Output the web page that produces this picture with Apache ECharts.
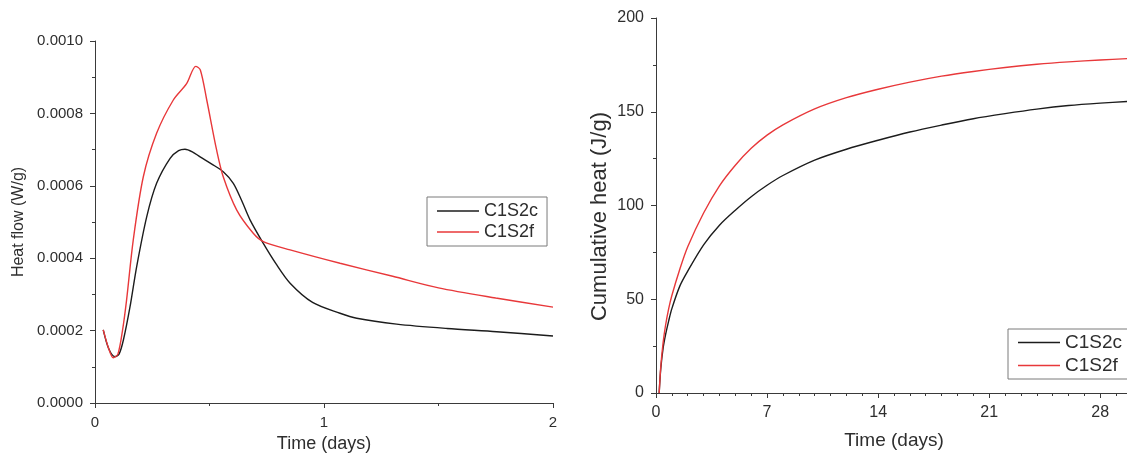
<!DOCTYPE html>
<html>
<head>
<meta charset="utf-8">
<script src="https://cdn.jsdelivr.net/npm/echarts@6/dist/echarts.min.js"></script>
<style>
  html, body { margin: 0; padding: 0; background: #ffffff; }
  #chart { width: 1127px; height: 453px; }
</style>
</head>
<body>
<div id="chart"></div>
<script>
// Heat flow curves over the first two days (time in days, heat flow in W/g)
const heatFlowC1S2c = [
  [0.036, 0.000202], [0.06, 0.000150], [0.087, 0.000128], [0.105, 0.000135],
  [0.124, 0.000174], [0.153, 0.000266], [0.182, 0.000377], [0.226, 0.000515],
  [0.269, 0.000607], [0.328, 0.000676], [0.365, 0.000697], [0.393, 0.000701],
  [0.425, 0.000694], [0.459, 0.000680], [0.510, 0.000660], [0.560, 0.000639],
  [0.604, 0.000607], [0.640, 0.000560], [0.677, 0.000506], [0.735, 0.000441],
  [0.790, 0.000385], [0.852, 0.000331], [0.950, 0.000278], [1.070, 0.000248],
  [1.143, 0.000234], [1.317, 0.000218], [1.536, 0.000206], [1.754, 0.000197],
  [2.000, 0.000185]
];
const heatFlowC1S2f = [
  [0.036, 0.000202], [0.06, 0.000150], [0.080, 0.000125], [0.100, 0.000135],
  [0.120, 0.000200], [0.138, 0.000285], [0.167, 0.000450], [0.211, 0.000625],
  [0.269, 0.000745], [0.342, 0.000837], [0.400, 0.000882], [0.440, 0.000930],
  [0.460, 0.000920], [0.488, 0.000837], [0.531, 0.000699], [0.560, 0.000625],
  [0.619, 0.000533], [0.691, 0.000469], [0.735, 0.000446], [0.852, 0.000423],
  [1.070, 0.000386], [1.300, 0.000350], [1.500, 0.000318], [1.750, 0.000290],
  [2.000, 0.000265]
];

// Cumulative heat over the first month (time in days, heat in J/g)
const cumHeatC1S2c = [
  [0.2, 0], [0.3, 13], [0.45, 24], [0.6, 31], [0.8, 38.5], [1, 45], [1.5, 57],
  [2, 65], [3, 79], [4, 89.5], [5, 97.5], [6, 104.7], [7, 110.8], [8, 116],
  [10, 124.2], [12, 130], [14, 134.8], [16, 139.2], [18, 142.9], [20, 146.3],
  [22, 149], [24, 151.4], [26, 153.3], [28, 154.6], [29.8, 155.5]
];
const cumHeatC1S2f = [
  [0.2, 0], [0.3, 14], [0.45, 27], [0.6, 36], [0.8, 45], [1, 52], [1.5, 66],
  [2, 78], [3, 96], [4, 110.5], [5, 121.5], [6, 130.5], [7, 137.5], [8, 143],
  [10, 151.5], [12, 157.5], [14, 162], [16, 165.8], [18, 169], [20, 171.5],
  [22, 173.6], [24, 175.3], [26, 176.6], [28, 177.6], [29.8, 178.4]
];

const seriesNames = ['C1S2c', 'C1S2f'];
const seriesColors = ['#1c1c1c', '#e8383a'];

const FONT = 'Arial, "Liberation Sans", sans-serif';
const TEXT = '#2e2e2e';
const AXIS = '#3a3a3a';

function axisBase(extra) {
  return Object.assign({
    type: 'value',
    splitLine: { show: false },
    axisLine: { show: true, onZero: false, lineStyle: { color: AXIS, width: 1 } },
    axisTick: { show: true, inside: false, length: 5, lineStyle: { color: AXIS } },
    minorTick: { show: true, splitNumber: 2, length: 3, lineStyle: { color: AXIS } },
    axisLabel: { color: TEXT, fontFamily: FONT, fontSize: 15 },
    nameTextStyle: { color: TEXT, fontFamily: FONT },
    nameLocation: 'middle'
  }, extra);
}

function lineSeries(name, data, color, xi) {
  return {
    name: name, type: 'line', data: data,
    xAxisIndex: xi, yAxisIndex: xi,
    symbol: 'none', smooth: 0.3,
    lineStyle: { color: color, width: 1.4 },
    itemStyle: { color: color },
    animation: false
  };
}

function legendBox(left, top, fontSize, lineHeight, gap, padding) {
  return {
    left: left, top: top, orient: 'vertical',
    data: seriesNames.map(n => ({ name: n })),
    icon: 'rect', itemWidth: 42, itemHeight: 1.5, itemGap: gap,
    padding: padding,
    backgroundColor: '#ffffff', borderColor: '#7a7a7a', borderWidth: 1,
    textStyle: { color: TEXT, fontFamily: FONT, fontSize: fontSize, lineHeight: lineHeight },
    selectedMode: false
  };
}

const chart = echarts.init(document.getElementById('chart'), null, { renderer: 'canvas' });
chart.setOption({
  animation: false,
  backgroundColor: '#ffffff',
  grid: [
    { left: 95, top: 41, width: 458, height: 362, containLabel: false, outerBoundsMode: 'none' },
    { left: 656, top: 18, width: 476, height: 375, containLabel: false, outerBoundsMode: 'none' }
  ],
  xAxis: [
    axisBase({
      gridIndex: 0, min: 0, max: 2, interval: 1,
      name: 'Time (days)', nameGap: 30,
      nameTextStyle: { color: TEXT, fontFamily: FONT, fontSize: 18 },
      axisLabel: { color: TEXT, fontFamily: FONT, fontSize: 15, margin: 12 }
    }),
    axisBase({
      gridIndex: 1, min: 0, max: 30, interval: 7,
      minorTick: { show: true, splitNumber: 7, length: 3, lineStyle: { color: AXIS } },
      name: 'Time (days)', nameGap: 38,
      nameTextStyle: { color: TEXT, fontFamily: FONT, fontSize: 19 },
      axisLabel: {
        color: TEXT, fontFamily: FONT, fontSize: 16, margin: 12,
        formatter: v => (v % 7 === 0 ? String(v) : '')
      }
    })
  ],
  yAxis: [
    axisBase({
      gridIndex: 0, min: 0, max: 0.001, interval: 0.0002,
      name: 'Heat flow (W/g)', nameGap: 68,
      nameTextStyle: { color: TEXT, fontFamily: FONT, fontSize: 16 },
      axisLabel: { color: TEXT, fontFamily: FONT, fontSize: 15, margin: 12, formatter: v => v.toFixed(4) }
    }),
    axisBase({
      gridIndex: 1, min: 0, max: 200, interval: 50,
      name: 'Cumulative heat (J/g)', nameGap: 45,
      nameTextStyle: { color: TEXT, fontFamily: FONT, fontSize: 22, padding: [0, 22, 0, 0] },
      axisLabel: { color: TEXT, fontFamily: FONT, fontSize: 16, margin: 12 }
    })
  ],
  legend: [
    legendBox(427, 197, 18, 20, 1, [4, 9, 4, 10]),
    legendBox(1008, 329, 19, 21, 2, [3, 6, 3, 10])
  ],
  series: [
    lineSeries(seriesNames[0], heatFlowC1S2c, seriesColors[0], 0),
    lineSeries(seriesNames[1], heatFlowC1S2f, seriesColors[1], 0),
    lineSeries(seriesNames[0], cumHeatC1S2c, seriesColors[0], 1),
    lineSeries(seriesNames[1], cumHeatC1S2f, seriesColors[1], 1)
  ]
});
</script>
</body>
</html>
